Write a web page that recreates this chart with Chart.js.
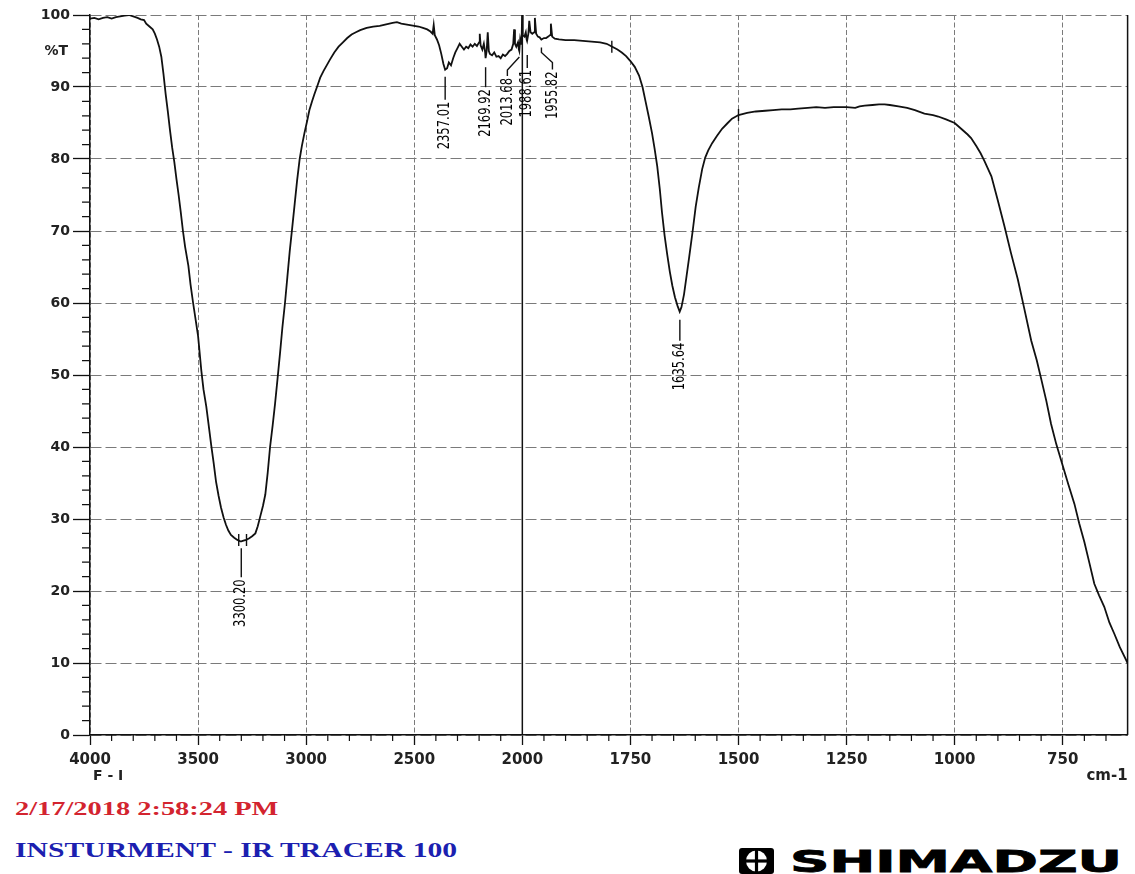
<!DOCTYPE html>
<html>
<head>
<meta charset="utf-8">
<title>Espectro FTIR</title>
<script src="https://cdn.jsdelivr.net/npm/chart.js@4.4.1/dist/chart.umd.min.js"></script>
<style>
  html, body { margin: 0; padding: 0; background: #fff; }
  #hoja { position: relative; width: 1135px; height: 874px; overflow: hidden; background: #fff; }
  #grafico { position: absolute; left: 0; top: 0; width: 1135px; height: 790px; }
  .sello { position: absolute; left: 15px; white-space: nowrap; font-family: "Liberation Serif", "DejaVu Serif", serif; font-weight: bold; transform-origin: 0 50%; line-height: 1; }
  #fecha { top: 799px; font-size: 19px; color: #d3242f; }
  #equipo { top: 840px; font-size: 21px; color: #1c1fb0; }
  #logo { position: absolute; left: 739px; top: 848px; height: 26px; display: flex; align-items: center; }
  #logoTexto { margin-left: 16px; font-family: "DejaVu Sans", sans-serif; font-weight: bold; font-size: 31px; color: #000; white-space: nowrap; transform-origin: 0 50%; line-height: 1; display: inline-block; -webkit-text-stroke: 0.8px #000; }
</style>
</head>
<body>
<div id="hoja">
  <div id="grafico"><canvas id="cvEspectro"></canvas></div>
  <div id="fecha" class="sello">2/17/2018 2:58:24 PM</div>
  <div id="equipo" class="sello">INSTURMENT - IR TRACER 100</div>
  <div id="logo">
    <svg width="35" height="26" viewBox="0 0 35 26">
      <rect x="0" y="0" width="35" height="26" rx="3" fill="#000"/>
      <circle cx="17.5" cy="13" r="10.5" fill="#fff"/>
      <line x1="17.5" y1="2" x2="17.5" y2="24" stroke="#000" stroke-width="3.2"/>
      <line x1="7" y1="13" x2="28" y2="13" stroke="#000" stroke-width="3.2"/>
    </svg>
    <span id="logoTexto">SHIMADZU</span>
  </div>
</div>
<script>
const numOnda = [
  4000, 3980, 3960, 3940, 3920, 3900, 3880, 3860, 3840, 3820, 3800, 3780, 3765, 3750, 3740, 3725, 3710, 3700, 3690, 3680, 3670, 3660, 3650, 3640, 3630, 3620, 3610, 3600, 3590, 3580,
  3570, 3560, 3545, 3535, 3523, 3510, 3500, 3485, 3475, 3462, 3450, 3439, 3428, 3417, 3405, 3394, 3382, 3371, 3360, 3348, 3333, 3318, 3305, 3300, 3290, 3278, 3265, 3250, 3235, 3224,
  3212, 3200, 3189, 3178, 3167, 3155, 3144, 3132, 3121, 3110, 3098, 3087, 3076, 3064, 3053, 3042, 3030, 3020, 3008, 2996, 2985, 2973, 2962, 2950, 2935, 2920, 2905, 2890, 2870, 2850,
  2830, 2810, 2790, 2770, 2750, 2720, 2690, 2660, 2630, 2600, 2580, 2560, 2540, 2520, 2500, 2480, 2460, 2440, 2425, 2415, 2410, 2405, 2395, 2385, 2375, 2365, 2357, 2348, 2340, 2330,
  2320, 2310, 2300, 2290, 2280, 2270, 2260, 2250, 2240, 2230, 2220, 2210, 2200, 2197, 2193, 2185, 2178, 2172, 2170, 2165, 2160, 2155, 2150, 2140, 2130, 2120, 2110, 2100, 2090, 2080,
  2070, 2060, 2050, 2042, 2038, 2034, 2028, 2020, 2016, 2014, 2010, 2006, 2003, 2001, 1999, 1995, 1992, 1990, 1989, 1986, 1984, 1981, 1977, 1973, 1971, 1968, 1964, 1960, 1956, 1950,
  1945, 1940, 1936, 1934, 1931, 1925, 1915, 1900, 1880, 1860, 1840, 1820, 1805, 1792, 1780, 1770, 1760, 1750, 1740, 1730, 1722, 1715, 1708, 1700, 1694, 1688, 1682, 1677, 1671, 1665,
  1659, 1653, 1647, 1641, 1636, 1632, 1626, 1620, 1614, 1606, 1599, 1592, 1584, 1577, 1570, 1561, 1550, 1538, 1525, 1515, 1500, 1480, 1460, 1438, 1420, 1400, 1380, 1362, 1340, 1320,
  1300, 1280, 1250, 1230, 1220, 1208, 1190, 1175, 1162, 1150, 1130, 1110, 1092, 1070, 1050, 1038, 1020, 1000, 985, 970, 962, 950, 940, 931, 915, 900, 885, 870, 854, 840,
  823, 810, 800, 788, 777, 765, 750, 737, 723, 712, 700, 688, 677, 666, 654, 642, 631, 618, 600
];
const transm = [
  99.5, 99.6, 99.4, 99.6, 99.7, 99.5, 99.7, 99.8, 99.9, 100, 99.8, 99.6, 99.4, 99.3, 98.8, 98.4, 98.0, 97.4, 96.6, 95.6, 94.2, 91.8, 89.0, 86.6, 84.0, 81.6, 79.6, 77.2, 75.0, 72.6,
  70.0, 67.8, 65.2, 62.6, 60.0, 57.4, 55.4, 50.6, 48.0, 45.6, 42.8, 40.2, 37.8, 35.2, 33.2, 31.6, 30.2, 29.2, 28.4, 27.8, 27.4, 27.1, 26.9, 26.9, 27.0, 27.1, 27.3, 27.6, 28.0, 29.0,
  30.4, 31.8, 33.4, 36.4, 40.0, 43.0, 46.0, 49.6, 53.0, 56.6, 60.0, 63.6, 67.2, 70.6, 73.8, 77.0, 80.0, 81.8, 83.6, 85.2, 86.8, 88.0, 89.0, 90.0, 91.3, 92.2, 93.0, 93.8, 94.8, 95.6,
  96.2, 96.8, 97.3, 97.6, 97.9, 98.2, 98.4, 98.5, 98.7, 98.9, 99.0, 98.8, 98.7, 98.6, 98.5, 98.4, 98.2, 98.0, 97.7, 97.4, 98.6, 97.2, 96.6, 95.8, 94.6, 93.2, 92.4, 92.6, 93.4, 93.0,
  94.0, 94.8, 95.4, 96.0, 95.6, 95.2, 95.6, 95.4, 95.9, 95.6, 96.0, 95.7, 96.2, 97.4, 95.8, 95.2, 96.0, 94.8, 94.0, 95.0, 97.6, 95.0, 94.6, 94.4, 94.8, 94.2, 94.3, 94.0, 94.5, 94.3,
  94.6, 95.0, 95.2, 96.0, 98.0, 96.0, 95.6, 96.2, 95.2, 95.0, 96.6, 96.0, 97.0, 100, 97.2, 97.0, 97.6, 96.6, 96.4, 97.4, 99.2, 97.6, 97.4, 97.6, 99.6, 97.4, 97.0, 96.9, 96.6, 96.8,
  96.8, 97.0, 97.2, 98.8, 97.0, 96.7, 96.6, 96.5, 96.5, 96.4, 96.3, 96.2, 96.0, 95.6, 95.2, 94.8, 94.3, 93.6, 92.8, 91.6, 90.0, 88.0, 86.0, 83.6, 81.4, 79.0, 75.8, 72.6, 69.4, 66.8,
  64.4, 62.4, 60.8, 59.6, 58.8, 59.4, 61.2, 63.8, 66.4, 70.0, 73.4, 76.0, 78.6, 80.2, 81.2, 82.2, 83.2, 84.2, 85.0, 85.6, 86.1, 86.4, 86.6, 86.7, 86.8, 86.9, 86.9, 87.0, 87.1, 87.2,
  87.1, 87.2, 87.2, 87.1, 87.3, 87.4, 87.5, 87.6, 87.6, 87.5, 87.3, 87.1, 86.8, 86.3, 86.1, 85.9, 85.5, 85.0, 84.2, 83.4, 82.9, 81.8, 80.8, 79.7, 77.6, 74.2, 70.7, 67.0, 63.3, 59.5,
  54.8, 52.0, 49.5, 46.4, 43.2, 40.4, 37.4, 34.8, 32.1, 29.4, 26.8, 23.8, 21.0, 19.4, 17.8, 15.6, 14.1, 12.2, 10.0
];

// Picos marcados con su valor
const picosOnda = [3300.20, 2357.01, 2169.92, 2013.68, 1988.61, 1955.82, 1635.64];
const picosT = [26.9, 92.4, 94.0, 95.0, 96.4, 96.6, 58.8];

// Marcas cortas sobre la traza
const marcasOnda = [3312, 3276, 1793, 1500];
const marcasT = [27.1, 27.1, 95.6, 86.1];

const ticksX = [4000, 3500, 3000, 2500, 2000, 1750, 1500, 1250, 1000, 750];
const ticksY = [0, 10, 20, 30, 40, 50, 60, 70, 80, 90, 100];

// Recorrido de cada línea guía (px relativos al pico), el último punto es donde empieza el texto
const guias = [
  [[0, 7], [0, 36]],
  [[0, 7], [0, 30]],
  [[0, 9], [0, 29]],
  [[0, 6], [-12, 19], [-12, 25]],
  [[0, 14], [0, 27]],
  [[0, 8], [0, 13], [11, 23], [11, 30]],
  [[0, 8], [0, 29]]
];

// Por debajo de 2000 cm-1 el eje se estira al doble
const CORTE = 2000;

class EscalaIR extends Chart.LinearScale {
  static id = 'ir';
  static defaults = {};

  buildTicks() {
    return ticksX.map(v => ({ value: v }));
  }
  _peso(v) {
    return v >= CORTE ? this.max - v : (this.max - CORTE) + 2 * (CORTE - v);
  }
  getPixelForValue(v) {
    return this.left + this.width * this._peso(v) / this._peso(this.min);
  }
  getValueForPixel(px) {
    const p = (px - this.left) / this.width * this._peso(this.min);
    const izq = this.max - CORTE;
    return p <= izq ? this.max - p : CORTE - (p - izq) / 2;
  }
}
Chart.register(EscalaIR);

// Marco, línea de 2000, ticks menores y textos del eje
const marco = {
  id: 'marco',
  afterDatasetsDraw(chart) {
    const { ctx, chartArea: a, scales: { x, y } } = chart;
    ctx.save();
    ctx.strokeStyle = '#111';

    ctx.lineWidth = 1.5;
    const x2000 = x.getPixelForValue(2000);
    ctx.beginPath();
    ctx.moveTo(x2000, a.top); ctx.lineTo(x2000, a.bottom);
    ctx.moveTo(a.right, a.top); ctx.lineTo(a.right, a.bottom);
    ctx.stroke();

    ctx.lineWidth = 1.2;
    ctx.beginPath();
    for (let w = 3900; w > 2000; w -= 100) {
      if (w % 500 === 0) continue;
      const px = x.getPixelForValue(w);
      ctx.moveTo(px, a.bottom); ctx.lineTo(px, a.bottom + 6);
    }
    for (let w = 1950; w >= 650; w -= 50) {
      if (w % 250 === 0) continue;
      const px = x.getPixelForValue(w);
      ctx.moveTo(px, a.bottom); ctx.lineTo(px, a.bottom + 6);
    }
    for (let t = 2; t < 100; t += 2) {
      if (t % 10 === 0) continue;
      const py = y.getPixelForValue(t);
      ctx.moveTo(a.left - 8, py); ctx.lineTo(a.left, py);
    }
    ctx.stroke();

    ctx.fillStyle = '#222';
    ctx.font = 'bold 14px "DejaVu Sans", sans-serif';
    ctx.textAlign = 'right';
    ctx.textBaseline = 'middle';
    ctx.fillText('%T', a.left - 22, y.getPixelForValue(95));
    ctx.textAlign = 'left';
    ctx.font = 'bold 14px "DejaVu Sans", sans-serif';
    ctx.fillText('F - I', a.left + 3, a.bottom + 41);
    ctx.textAlign = 'right';
    ctx.font = 'bold 15px "DejaVu Sans", sans-serif';
    ctx.fillText('cm-1', a.right, a.bottom + 41);
    ctx.restore();
  }
};

// Números de los picos, girados, con su línea guía
const etiquetasPicos = {
  id: 'etiquetasPicos',
  afterDatasetsDraw(chart) {
    const { ctx, scales: { x, y } } = chart;
    ctx.save();
    ctx.strokeStyle = '#111';
    ctx.lineWidth = 1.4;
    ctx.fillStyle = '#000';
    ctx.font = '16px "Liberation Sans Narrow", "DejaVu Sans Condensed", sans-serif';
    picosOnda.forEach((w, i) => {
      const px = x.getPixelForValue(w);
      const py = y.getPixelForValue(picosT[i]);
      const g = guias[i];
      ctx.beginPath();
      g.forEach(([dx, dy], k) => k ? ctx.lineTo(px + dx, py + dy) : ctx.moveTo(px + dx, py + dy));
      ctx.stroke();
      const [tx, ty] = g[g.length - 1];
      ctx.save();
      ctx.translate(px + tx, py + ty + 2);
      ctx.rotate(-Math.PI / 2);
      ctx.scale(0.8, 1);
      ctx.textAlign = 'right';
      ctx.textBaseline = 'middle';
      ctx.fillText(w.toFixed(2), 0, 0);
      ctx.restore();
    });
    ctx.restore();
  }
};

new Chart(document.getElementById('cvEspectro'), {
  type: 'line',
  data: {
    datasets: [
      {
        data: numOnda.map((w, i) => ({ x: w, y: transm[i] })),
        borderColor: '#111',
        borderWidth: 1.8,
        pointRadius: 0,
        tension: 0,
        fill: false
      },
      {
        data: marcasOnda.map((w, i) => ({ x: w, y: marcasT[i] })),
        showLine: false,
        pointStyle: 'line',
        rotation: 90,
        pointRadius: 6,
        borderColor: '#111',
        borderWidth: 1.4
      }
    ]
  },
  options: {
    animation: false,
    responsive: true,
    maintainAspectRatio: false,
    layout: { padding: { top: 15, right: 7, left: 0, bottom: 0 } },
    plugins: { legend: { display: false }, tooltip: { enabled: false } },
    scales: {
      x: {
        type: 'ir',
        min: 600,
        max: 4000,
        afterFit: s => { s.height = 55; },
        grid: { color: '#7a7a7a', lineWidth: 1, tickLength: 10, tickColor: '#111', tickWidth: 1.3 },
        border: { display: true, color: '#111', width: 1.5, dash: [5, 2.5] },
        ticks: {
          autoSkip: false,
          maxRotation: 0,
          padding: 6,
          color: '#222',
          font: { family: '"DejaVu Sans", sans-serif', weight: 'bold', size: 15 },
          callback: v => String(v)
        }
      },
      y: {
        min: 0,
        max: 100,
        afterFit: s => { s.width = 90; },
        afterBuildTicks: s => { s.ticks = ticksY.map(v => ({ value: v })); },
        grid: { color: '#7a7a7a', lineWidth: 1, tickLength: 17, tickColor: '#111', tickWidth: 1.3 },
        border: { display: true, color: '#111', width: 1.5, dash: [11, 4] },
        ticks: {
          padding: 3,
          color: '#222',
          font: { family: '"DejaVu Sans", sans-serif', weight: 'bold', size: 14 }
        }
      }
    }
  },
  plugins: [marco, etiquetasPicos]
});

// Textos del pie ajustados al ancho impreso
function ajustarAncho(el, ancho) {
  el.style.transform = 'scaleX(' + (ancho / el.offsetWidth) + ')';
}
ajustarAncho(document.getElementById('fecha'), 263);
ajustarAncho(document.getElementById('equipo'), 442);
ajustarAncho(document.getElementById('logoTexto'), 332);
</script>
</body>
</html>
